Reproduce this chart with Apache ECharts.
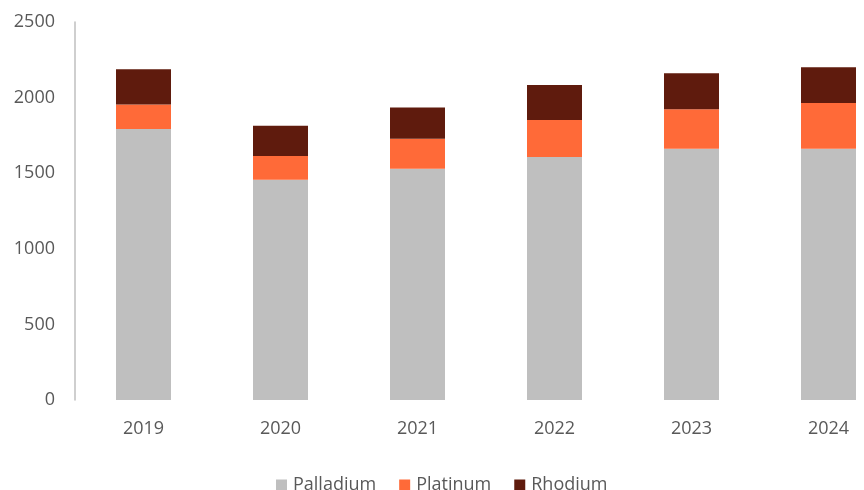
<!DOCTYPE html>
<html>
<head>
<meta charset="utf-8">
<script src="https://cdn.jsdelivr.net/npm/echarts@6/dist/echarts.min.js"></script>
<style>
  html, body { margin: 0; padding: 0; background: #ffffff; }
  #chart { width: 864px; height: 490px; }
</style>
</head>
<body>
<div id="chart"></div>
<script>
// Annual demand by metal (stacked)
const years = ['2019', '2020', '2021', '2022', '2023', '2024'];
const palladium = [1793, 1456, 1530, 1607, 1662, 1662];
const platinum = [161, 158, 198, 245, 261, 303];
const rhodium = [233, 199, 206, 232, 238, 236];
const yTicks = [0, 500, 1000, 1500, 2000, 2500];

const fontFamily = '"Open Sans", "Liberation Sans", sans-serif';
const textColor = '#595959';

function barSeries(name, data, color) {
  return {
    name: name,
    type: 'bar',
    stack: 'total',
    data: data,
    barWidth: 55,
    itemStyle: { color: color },
    emphasis: { disabled: true }
  };
}

const chart = echarts.init(document.getElementById('chart'), null, { renderer: 'canvas' });
chart.setOption({
  animation: false,
  backgroundColor: '#ffffff',
  // plot area runs slightly past the right edge, so the last column is clipped
  grid: { left: 75, width: 822, top: 22, height: 378, outerBoundsMode: 'none', containLabel: false },
  legend: {
    top: 476,
    left: 276,
    padding: 0,
    itemWidth: 11,
    itemHeight: 11,
    itemGap: 23,
    icon: 'rect',
    textStyle: { color: textColor, fontSize: 18, fontFamily: fontFamily, padding: [0, 0, 0, 1] }
  },
  xAxis: {
    type: 'category',
    data: years,
    axisLine: { show: false },
    axisTick: { show: false },
    axisLabel: { color: textColor, fontSize: 18, fontFamily: fontFamily, margin: 20, hideOverlap: false }
  },
  yAxis: {
    type: 'value',
    min: yTicks[0],
    max: yTicks[yTicks.length - 1],
    interval: 500,
    axisLine: { show: true, lineStyle: { color: '#bfbfbf', width: 1.5 } },
    axisTick: { show: false },
    splitLine: { show: false },
    axisLabel: {
      color: textColor, fontSize: 18, fontFamily: fontFamily, margin: 20,
      formatter: function (v) { return String(v); }
    }
  },
  series: [
    barSeries('Palladium', palladium, '#bfbfbf'),
    barSeries('Platinum', platinum, '#ff6a38'),
    barSeries('Rhodium', rhodium, '#5f1b0d')
  ]
});
</script>
</body>
</html>
